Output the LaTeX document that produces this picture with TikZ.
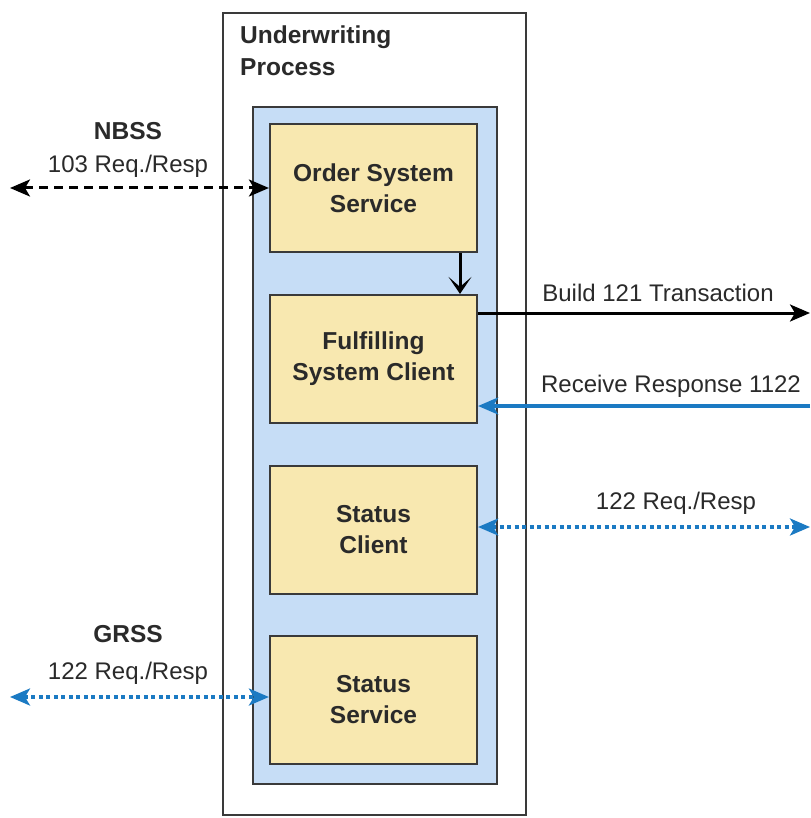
\documentclass[tikz,border=0pt]{standalone}
\usepackage{fontspec}
\setmainfont{Liberation Sans}
\usetikzlibrary{arrows.meta}
\definecolor{bluefill}{HTML}{C6DDF6}
\definecolor{yellowfill}{HTML}{F8E8B0}
\definecolor{edge}{HTML}{3A3A3A}
\definecolor{arrowblue}{HTML}{1B7AC3}
\definecolor{txt}{HTML}{2A2A2A}
\begin{document}
\begin{tikzpicture}[x=1pt,y=-1pt,
  outerbox/.style={draw=edge,line width=2pt,fill=white},
  bluebox/.style={draw=edge,line width=2.2pt,fill=bluefill},
  unitbox/.style={draw=edge,line width=2.2pt,fill=yellowfill,minimum width=207pt,minimum height=128pt,inner sep=0pt,align=center,font=\fontsize{24.5}{31}\selectfont\bfseries,text=txt},
  lbl/.style={font=\fontsize{24}{28}\selectfont,text=txt,inner sep=0pt},
  blbl/.style={font=\fontsize{24.5}{28}\selectfont\bfseries,text=txt,inner sep=0pt},
  tip/.style={-{Stealth[length=20pt,width=17pt,inset=5pt]}},
  tips/.style={{Stealth[length=20pt,width=17pt,inset=5pt]}-{Stealth[length=20pt,width=17pt,inset=5pt]}},
  vtip/.style={-{Stealth[length=17pt,width=23pt,inset=10pt]}},
  blackdash/.style={line width=3pt,black,dash pattern=on 9pt off 6pt},
  bluedot/.style={line width=3.2pt,arrowblue,dash pattern=on 4pt off 3.5pt}
]
\useasboundingbox (0,0) rectangle (810,818);
\fill[white] (0,0) rectangle (810,818);
\draw[outerbox] (223,13) rectangle (526,815);
\node[anchor=north west,align=left,font=\fontsize{24.5}{32}\selectfont\bfseries,text=txt,inner sep=0pt] (title) at (240,26) {Underwriting\\Process};
\draw[bluebox] (253,107) rectangle (497,784);
\node[unitbox] (order) at (373.5,188) {Order System\\Service};
\node[unitbox] (fulfil) at (373.5,359) {Fulfilling\\System Client};
\node[unitbox] (statusc) at (373.5,530) {Status\\Client};
\node[unitbox] (statuss) at (373.5,700) {Status\\Service};

% left side
\coordinate (nbssend) at (10,188);
\coordinate (grssend) at (10,697);
\node[blbl] (nbss) at (128,131) {NBSS};
\node[lbl] (nbssreq) at (128,166) {103 Req./Resp};
\draw[blackdash,tips] (nbssend) -- (order.west);
\node[blbl] (grss) at (128,634) {GRSS};
\node[lbl] (grssreq) at (128,673) {122 Req./Resp};
\draw[bluedot,tips] (grssend) -- (grssend -| statuss.west);

% internal
\draw[line width=3pt,black,vtip] (order.south -| 460,0) -- (fulfil.north -| 460,0);

% right side
\coordinate (buildend) at (810,313);
\coordinate (recvend) at (810,406);
\coordinate (reqend) at (810,527);
\draw[line width=3pt,black,tip] (buildend -| fulfil.east) -- (buildend);
\node[lbl] (buildlbl) at (658,293) {Build 121 Transaction};
\draw[line width=3.2pt,arrowblue,tip] (recvend) -- (recvend -| fulfil.east);
\node[lbl] (recvlbl) at (671,386) {Receive Response 1122};
\draw[bluedot,tips] (reqend -| statusc.east) -- (reqend);
\node[lbl] (reqlbl) at (676,503) {122 Req./Resp};
\end{tikzpicture}
\end{document}
